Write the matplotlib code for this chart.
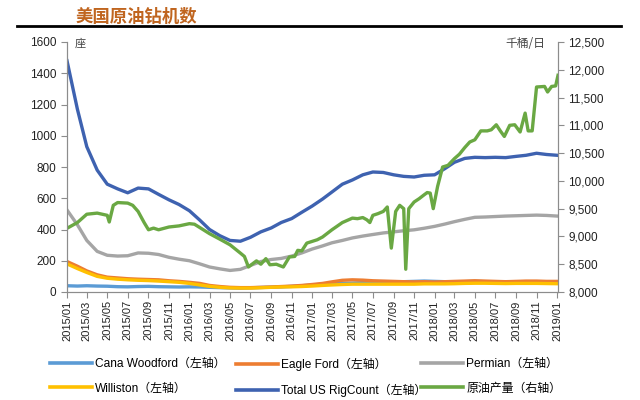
import matplotlib
matplotlib.use('Agg')
import matplotlib.pyplot as plt
import matplotlib.dates as mdates
from matplotlib.lines import Line2D
from matplotlib.ticker import FuncFormatter
import pandas as pd

# monthly rig counts (left axis), 2015/01 .. 2019/01
rig_dates = pd.date_range('2015-01-01', '2019-01-01', freq='MS')
total_rigs = [1480, 1170, 930, 780, 690, 660, 635, 665, 660, 625, 590, 560,
              520, 460, 400, 360, 330, 325, 350, 385, 410, 445, 470, 510,
              550, 595, 640, 690, 717, 750, 768, 765, 750, 740, 736, 747,
              750, 790, 830, 855, 862, 860, 862, 860, 868, 875, 888, 880, 875]
permian = [525, 430, 330, 260, 235, 230, 232, 250, 248, 240, 222, 210,
           200, 180, 160, 148, 138, 145, 170, 195, 208, 215, 230, 250,
           275, 295, 315, 330, 346, 358, 368, 378, 385, 392, 398, 408,
           420, 435, 450, 465, 478, 480, 483, 486, 488, 490, 492, 490, 486]
eagle_ford = [195, 165, 135, 110, 95, 90, 85, 82, 80, 78, 72, 68,
              62, 55, 42, 35, 30, 28, 28, 30, 32, 35, 38, 42,
              48, 55, 65, 75, 78, 76, 72, 70, 68, 66, 65, 66,
              64, 66, 68, 70, 72, 70, 68, 66, 68, 70, 70, 68, 68]
williston = [180, 150, 125, 100, 88, 82, 78, 75, 73, 70, 66, 62,
             55, 45, 36, 30, 26, 25, 25, 27, 30, 32, 33, 35,
             38, 42, 45, 48, 50, 50, 50, 50, 50, 50, 50, 52,
             52, 52, 53, 55, 56, 56, 55, 54, 55, 55, 55, 54, 53]
cana_woodford = [40, 38, 40, 38, 37, 34, 33, 35, 36, 34, 33, 32,
                 33, 32, 30, 28, 26, 25, 27, 29, 31, 33, 36, 40,
                 45, 50, 55, 55, 57, 60, 62, 64, 66, 66, 68, 70,
                 68, 66, 64, 66, 68, 66, 64, 63, 62, 62, 60, 60, 60]

# crude output, thousand barrels/day (right axis)
prod_dates = pd.to_datetime([
    '2015-01-02', '2015-02-01', '2015-03-01', '2015-04-01', '2015-05-01', '2015-05-07',
    '2015-05-19', '2015-06-01', '2015-07-01', '2015-07-16', '2015-08-01', '2015-08-19',
    '2015-09-01', '2015-09-16', '2015-10-01', '2015-11-01', '2015-12-01', '2016-01-01',
    '2016-01-16', '2016-02-01', '2016-03-01', '2016-04-01', '2016-05-01', '2016-06-01',
    '2016-06-13', '2016-06-25', '2016-07-10', '2016-07-19', '2016-08-01', '2016-08-16',
    '2016-08-28', '2016-09-16', '2016-10-07', '2016-10-25', '2016-11-10', '2016-11-19',
    '2016-12-01', '2016-12-16', '2017-01-16', '2017-02-01', '2017-03-01', '2017-03-13',
    '2017-04-01', '2017-05-01', '2017-05-16', '2017-06-01', '2017-06-13', '2017-06-22',
    '2017-07-01', '2017-07-16', '2017-08-01', '2017-08-13', '2017-08-25', '2017-09-07',
    '2017-09-19', '2017-10-01', '2017-10-07', '2017-10-16', '2017-11-01', '2017-11-16',
    '2017-12-01', '2017-12-10', '2017-12-19', '2017-12-28', '2018-01-10', '2018-01-25',
    '2018-02-10', '2018-03-01', '2018-03-16', '2018-04-01', '2018-04-16', '2018-05-01',
    '2018-05-19', '2018-06-07', '2018-06-19', '2018-07-04', '2018-07-16', '2018-07-28',
    '2018-08-13', '2018-08-28', '2018-09-13', '2018-09-28', '2018-10-07', '2018-10-19',
    '2018-11-01', '2018-11-25', '2018-12-04', '2018-12-16', '2018-12-28', '2019-01-04'])
crude_output = [9150, 9250, 9400, 9420, 9380, 9260,
                9560, 9610, 9600, 9560, 9450, 9250,
                9120, 9150, 9120, 9170, 9190, 9230,
                9220, 9160, 9050, 8950, 8850, 8700,
                8640, 8450, 8520, 8560, 8500, 8600,
                8490, 8500, 8450, 8630, 8640, 8750,
                8740, 8880, 8940, 8990, 9120, 9170,
                9250, 9330, 9320, 9340, 9300, 9250,
                9380, 9410, 9450, 9530, 8790, 9450,
                9560, 9500, 8410, 9500, 9620, 9680,
                9750, 9790, 9780, 9500, 9900, 10250,
                10280, 10400, 10480, 10600, 10700, 10740,
                10900, 10900, 10920, 11010, 10900, 10800,
                11000, 11010, 10880, 11220, 10900, 10900,
                11690, 11700, 11600, 11700, 11710, 11900]

labels = ['Cana Woodford（左轴）', 'Eagle Ford（左轴）', 'Permian（左轴）',
          'Williston（左轴）', 'Total US RigCount（左轴）', '原油产量（右轴）']
colors = ['#5b9bd5', '#ed7d31', '#a5a5a5', '#ffc000', '#3e62b0', '#6aa843']

lat = ['Liberation Sans', 'Noto Sans CJK SC']
cjk = ['Noto Sans CJK SC', 'DejaVu Sans']
grey = '#8c8c8c'

fig = plt.figure(figsize=(6.4, 4), dpi=100)
ax = fig.add_axes([67 / 640, 1 - 292 / 400, 491 / 640, 250 / 400])
ax2 = ax.twinx()

lw = 2.4
ax.plot(rig_dates, cana_woodford, color=colors[0], lw=lw)
ax.plot(rig_dates, eagle_ford, color=colors[1], lw=lw)
ax.plot(rig_dates, williston, color=colors[3], lw=lw)
ax.plot(rig_dates, permian, color=colors[2], lw=lw)
ax.plot(rig_dates, total_rigs, color=colors[4], lw=lw)
ax2.plot(prod_dates, crude_output, color=colors[5], lw=lw)

ax.set_xlim(pd.Timestamp('2015-01-01'), pd.Timestamp('2019-01-04'))
ax.set_ylim(0, 1600)
ax.set_yticks(range(0, 1601, 200))
ax2.set_ylim(8000, 12500)
ax2.set_yticks(range(8000, 12501, 500))
ax2.yaxis.set_major_formatter(FuncFormatter(lambda v, p: f'{int(v):,}'))

ax.set_xticks(pd.date_range('2015-01-01', '2019-01-01', freq='2MS'))
ax.xaxis.set_major_formatter(mdates.DateFormatter('%Y/%m'))
for a in (ax, ax2):
    for s in a.spines.values():
        s.set_color(grey)
    a.spines['top'].set_visible(False)
    a.tick_params(colors=grey, labelcolor='#222222', length=4, width=0.8, labelsize=8.5)
    for t in a.get_xticklabels() + a.get_yticklabels():
        t.set_family(lat)
for t in ax.get_xticklabels():
    t.set_rotation(90)
ax.tick_params(axis='x', labelsize=8, pad=2)

fig.text(75 / 640, 1 - 47 / 400, '座', family=cjk, fontsize=8, color='#444444')
fig.text(545 / 640, 1 - 47 / 400, '千桶/日', family=cjk, fontsize=8.5, color='#444444', ha='right')

# title and rule
fig.text(75 / 640, 1 - 17 / 400, '美国原油钻机数', family=cjk, fontsize=12.5,
         color='#c0651f', va='center', weight='bold')
fig.add_artist(Line2D([17 / 640, 621 / 640], [1 - 26 / 400] * 2, color='black', lw=2))

# legend, three columns
handles = [Line2D([], [], color=c, lw=2.6) for c in colors]
col_x = [50, 236, 421]
for i, x in enumerate(col_x):
    fig.legend([handles[i], handles[i + 3]], [labels[i], labels[i + 3]],
               loc='upper left', bbox_to_anchor=(x / 640, 1 - 358 / 400),
               frameon=False, handlelength=3.5, handletextpad=0.3,
               borderpad=0, borderaxespad=0, labelspacing=1.05,
               prop={'family': lat, 'size': 8.6})

fig.savefig('out.png', dpi=100)
